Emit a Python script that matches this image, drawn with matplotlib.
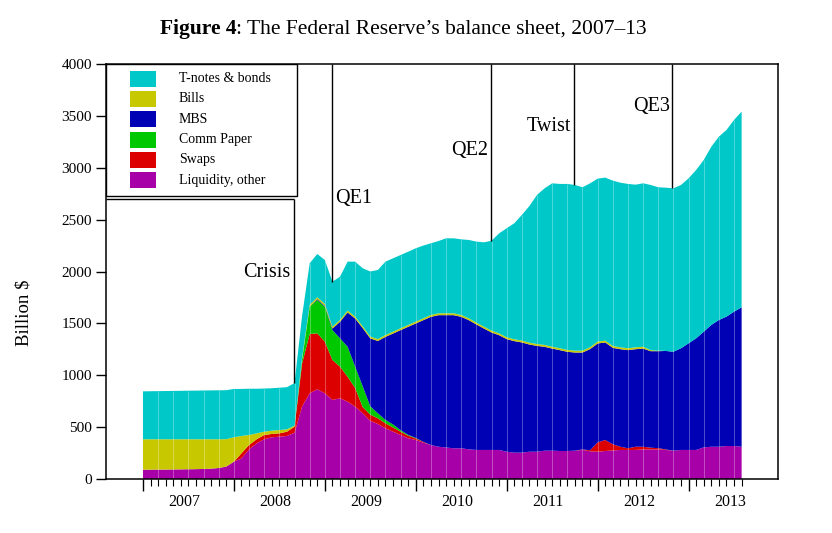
import numpy as np
import matplotlib
matplotlib.use("Agg")
import matplotlib.pyplot as plt
from matplotlib.patches import Rectangle

plt.rcParams['font.family'] = ['Liberation Serif', 'DejaVu Serif']

# months since Jan 2007, billion $
months = np.arange(80)
liquidity = [90, 90, 91, 91, 92, 93, 94, 95, 97, 100, 106, 120,
             167, 199, 286, 344, 383, 402, 408, 415,
             446, 700, 826, 865, 826, 762, 778, 745, 697, 633,
             560, 530, 489, 456, 424, 392, 376, 350, 328, 311,
             304, 296, 296, 286, 280, 280, 280, 280, 263, 254,
             254, 263, 263, 273, 273, 270, 270, 273, 280, 267,
             263, 270, 275, 280, 280, 280, 285, 285, 285, 280,
             273, 280, 280, 280, 305, 311, 311, 318, 318, 311]
swaps = [0] * 13 + [49, 42, 39, 41, 32, 32, 41,
                    58, 415, 572, 539, 498, 385, 305, 241, 180, 60,
                    60, 55, 48, 40, 32, 25, 15, 8, 0, 0] + [0] * 18 + \
        [5, 10, 90, 106, 60, 31, 16, 31, 26, 17, 12, 5] + [0] * 10
comm_paper = [0] * 21 + [40, 263, 322, 337, 289, 273, 289, 206, 200,
                         80, 48, 32, 30, 15, 8, 5, 0, 0, 0] + [0] * 40
mbs = [0] * 23 + [8, 8, 14, 159, 330, 464, 560,
                  655, 697, 801, 876, 964, 1042, 1103, 1173, 1235, 1268,
                  1275, 1283, 1267, 1245, 1209, 1170, 1132, 1106, 1085, 1075,
                  1062, 1033, 1020, 1001, 984, 972, 956, 946, 934, 975,
                  953, 940, 929, 940, 946, 940, 946, 930, 935, 949,
                  954, 980, 1028, 1076, 1115, 1174, 1222, 1247, 1295, 1344]
bills = [293, 293, 292, 292, 291, 290, 289, 288, 286, 283, 277, 264,
         235, 167, 96, 57, 32, 32, 32, 23,
         10] + [18] * 46 + [10, 5] + [0] * 11
tnotes = [462, 463, 464, 465, 466, 467, 468, 469, 470, 471, 472, 472,
          466, 453, 446, 430, 416, 409, 408, 406,
          411, 400, 400, 417, 424, 434, 417, 472, 530, 560,
          627, 667, 707, 707, 706, 706, 707, 701, 691, 697,
          723, 723, 729, 755, 781, 813, 867, 964, 1051, 1118,
          1211, 1318, 1437, 1510, 1575, 1584, 1600, 1597, 1575, 1580,
          1571, 1571, 1594, 1587, 1584, 1568, 1575, 1592, 1575, 1574,
          1575, 1574, 1590, 1623, 1655, 1718, 1767, 1799, 1848, 1886]

labels = ["T-notes & bonds", "Bills", "MBS", "Comm Paper", "Swaps",
          "Liquidity, other"]
colors = ["#00C8C8", "#C8C800", "#0000B4", "#00C800", "#DC0000", "#A800A8"]

events = ["Crisis", "QE1", "QE2", "Twist", "QE3"]
event_month = [19.93, 25.0, 45.95, 56.85, 69.85]
years = [2007, 2008, 2009, 2010, 2011, 2012, 2013]

fig = plt.figure(figsize=(8.32, 5.33), dpi=100)
ax = fig.add_axes([106 / 832, 1 - 479 / 533, 672 / 832, 415 / 533])

layers = [liquidity, swaps, comm_paper, mbs, bills, tnotes]
ax.stackplot(months, *layers, colors=colors[::-1], linewidth=0)
total = np.sum(np.array(layers), axis=0)

# faint seams between the polygons
ax.vlines(months[2:-1:2], 0, total[2:-1:2], colors="white", lw=0.6, alpha=0.35)

ax.set_xlim(-4.88, 83.8)
ax.set_ylim(0, 4000)
ax.set_yticks(range(0, 4001, 500))
ax.set_xticks(range(0, 80, 12))
ax.set_xticks(months, minor=True)
ax.set_xticklabels([])
ax.tick_params(axis="y", length=7.2, width=1, labelsize=11, pad=3)
ax.tick_params(axis="x", which="major", length=8.6, width=1)
ax.tick_params(axis="x", which="minor", length=5, width=0.8)
for s in ax.spines.values():
    s.set_linewidth(1.1)

for i, y in enumerate(years):
    ax.text(5.5 + 12 * i, -0.035, str(y), transform=ax.get_xaxis_transform(),
            ha="center", va="top", fontsize=11.5)

ax.set_ylabel("Billion $", fontsize=13.5)
ax.yaxis.set_label_coords(-0.11, 0.40)

# event markers
tops = np.interp(event_month, months, total)
ax.vlines(event_month[0], tops[0], 2700, colors="black", lw=1)
ax.hlines(2700, -4.88, event_month[0], colors="black", lw=1)
ax.vlines(event_month[1:], tops[1:], 4000, colors="black", lw=1)
ax.text(event_month[0] - 0.5, 1995, events[0], ha="right", va="center", fontsize=14.5)
ax.text(event_month[1] + 0.4, 2700, events[1], ha="left", va="center", fontsize=14.5)
ax.text(event_month[2] - 0.4, 3170, events[2], ha="right", va="center", fontsize=14.5)
ax.text(event_month[3] - 0.3, 3393, events[3], ha="right", va="center", fontsize=14.5)
ax.text(event_month[4] - 0.3, 3595, events[4], ha="right", va="center", fontsize=14.5)

# legend box
ax.add_patch(Rectangle((0, 0.682), 0.284, 0.318, transform=ax.transAxes,
                       facecolor="white", edgecolor="black", lw=1, zorder=5))
rows = [0.964, 0.916, 0.867, 0.818, 0.769, 0.720]
for lab, col, ry in zip(labels, colors, rows):
    ax.add_patch(Rectangle((0.0357, ry - 0.0193), 0.0387, 0.0386,
                           transform=ax.transAxes, facecolor=col,
                           edgecolor="none", zorder=6))
    ax.text(0.1086, ry, lab, transform=ax.transAxes, ha="left", va="center",
            fontsize=10, zorder=6)

# title: bold prefix + regular rest
ty = 1 - 34 / 533
t1 = fig.text(160 / 832, ty, "Figure 4", fontsize=15.5, fontweight="bold",
              ha="left", va="baseline")
r = fig.canvas.get_renderer()
bb = t1.get_window_extent(r)
fig.text(bb.x1 / fig.bbox.width, ty,
         ": The Federal Reserve\u2019s balance sheet, 2007\u201313",
         fontsize=15.5, ha="left", va="baseline")

fig.savefig("out.png", dpi=100)
